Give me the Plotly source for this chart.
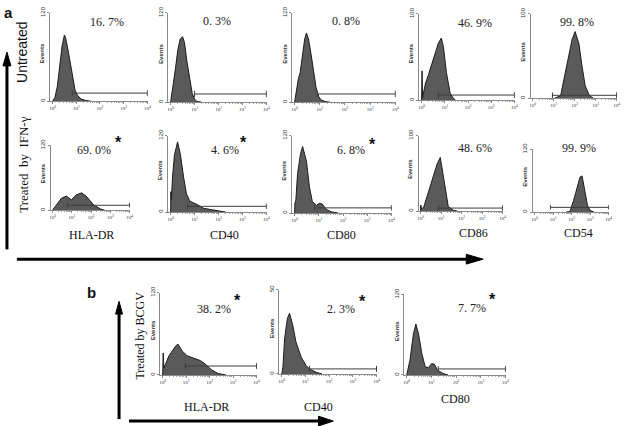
import numpy as np
import plotly.graph_objects as go

W, H = 627, 426

# ---------------- data (x in log10 fluorescence units, y in events) ----------------
# Untreated
hla_un_x = [0, 0.1, 0.2, 0.3, 0.4, 0.5, 0.55, 0.65, 0.75, 0.85, 0.95, 1.05, 1.2, 1.4, 1.6]
hla_un_y = [0, 5, 20, 50, 75, 90, 86, 70, 50, 30, 15, 8, 3, 1, 0]
cd40_un_x = [0, 0.03, 0.1, 0.2, 0.3, 0.4, 0.5, 0.58, 0.68, 0.8, 0.9, 1.0, 1.1, 1.3]
cd40_un_y = [0, 8, 20, 45, 70, 85, 88, 80, 55, 30, 12, 4, 1, 0]
cd80_un_x = [0, 0.08, 0.15, 0.22, 0.3, 0.4, 0.47, 0.55, 0.65, 0.75, 0.85, 0.95, 1.05, 1.2, 1.4]
cd80_un_y = [0, 20, 32, 40, 60, 85, 93, 85, 65, 40, 20, 8, 3, 1, 0]
cd86_un_x = [0, 0.02, 0.04, 0.17, 0.3, 0.43, 0.6, 0.72, 0.85, 0.94, 1.07, 1.23, 1.35, 1.45]
cd86_un_y = [0, 34, 3, 20, 30, 42, 55, 66, 72, 62, 32, 8, 3, 0]
cd54_un_x = [1.04, 1.33, 1.5, 1.74, 1.88, 2.02, 2.2, 2.35, 2.5, 2.7, 2.9]
cd54_un_y = [0, 3, 24, 53, 70, 79, 65, 38, 15, 3, 0]

# Treated by IFN-gamma
hla_ifn_x = [0, 0.2, 0.46, 0.72, 0.97, 1.23, 1.5, 1.74, 1.9, 2.15, 2.5, 2.7]
hla_ifn_y = [0, 9, 22, 26, 19, 28, 32, 26, 19, 9, 2, 0]
cd40_ifn_x = [0, 0.01, 0.03, 0.08, 0.16, 0.29, 0.41, 0.54, 0.66, 0.8, 1.1, 1.37, 1.8, 2.06, 2.3]
cd40_ifn_y = [0, 32, 20, 55, 90, 110, 90, 55, 29, 17, 12, 6, 3, 1, 0]
cd80_ifn_x = [0, 0.01, 0.05, 0.12, 0.24, 0.33, 0.49, 0.61, 0.73, 0.9, 1.02, 1.14, 1.3, 1.5, 1.8]
cd80_ifn_y = [0, 15, 20, 61, 91, 103, 80, 41, 18, 12, 15, 14, 6, 2, 0]
cd86_ifn_x = [0, 0.01, 0.04, 0.15, 0.4, 0.63, 0.8, 0.96, 1.07, 1.2, 1.35, 1.6, 1.8]
cd86_ifn_y = [0, 8, 3, 5, 27, 49, 62, 71, 53, 27, 6, 1, 0]
cd54_ifn_x = [1.7, 1.9, 2.1, 2.3, 2.45, 2.56, 2.7, 2.85, 3.0, 3.2]
cd54_ifn_y = [0, 1, 22, 49, 67, 69, 41, 13, 3, 0]

# Treated by BCGV
hla_bcg_x = [0, 0.02, 0.05, 0.13, 0.27, 0.41, 0.55, 0.65, 0.83, 1.04, 1.32, 1.6, 1.81, 2.1, 2.37, 2.7]
hla_bcg_y = [0, 32, 10, 17, 28, 35, 42, 45, 35, 28, 24, 21, 16, 7, 2, 0]
cd40_bcg_x = [0, 0.05, 0.125, 0.24, 0.33, 0.47, 0.6, 0.82, 1.03, 1.17, 1.45, 1.7]
cd40_bcg_y = [0, 4, 21.5, 33, 36, 28.5, 19, 10, 5, 3, 1, 0]
cd80_bcg_x = [0, 0.13, 0.27, 0.37, 0.48, 0.61, 0.75, 0.88, 1.01, 1.12, 1.25, 1.48, 1.68]
cd80_bcg_y = [0, 22, 61, 76, 61, 32, 12, 11, 17, 16, 7, 2, 0]

percent_labels = ["16. 7%", "0. 3%", "0. 8%", "46. 9%", "99. 8%",
                  "69. 0%", "4. 6%", "6. 8%", "48. 6%", "99. 9%",
                  "38. 2%", "2. 3%", "7. 7%"]
significant = [False, False, False, False, False,
               True, True, True, False, False,
               True, True, True]
y_max = [120, 120, 120, 100, 100,
         120, 120, 120, 100, 120,
         120, 50, 120]
gate_start = [0.83, 1.0, 0.9, 0.72, 0.94,
              0.77, 0.7, 0.82, 0.87, 0.85,
              0.97, 1.17, 1.28]
gate_level = [11, 11, 11, 6, 3.5,
              9, 9, 8, 4, 9,
              13, 3, 9]
hist_x = [hla_un_x, cd40_un_x, cd80_un_x, cd86_un_x, cd54_un_x,
          hla_ifn_x, cd40_ifn_x, cd80_ifn_x, cd86_ifn_x, cd54_ifn_x,
          hla_bcg_x, cd40_bcg_x, cd80_bcg_x]
hist_y = [hla_un_y, cd40_un_y, cd80_un_y, cd86_un_y, cd54_un_y,
          hla_ifn_y, cd40_ifn_y, cd80_ifn_y, cd86_ifn_y, cd54_ifn_y,
          hla_bcg_y, cd40_bcg_y, cd80_bcg_y]
x_tick_labels = ["10<sup>0</sup>", "10<sup>1</sup>", "10<sup>2</sup>", "10<sup>3</sup>", "10<sup>4</sup>"]

# ---------------- layout geometry (pixels) ----------------
# (x of 10^0, x of 10^4, y top, y bottom)
geom = [
    (51, 147, 6, 96), (170, 267, 6, 97), (295, 397, 6, 97), (423, 517, 7, 95), (535, 620, 7, 93),
    (51, 129, 141, 207), (170, 267, 131, 209), (295, 393, 131, 210), (422, 505, 131, 208), (537, 612, 145, 209),
    (162, 257, 291, 375), (282, 378, 288, 374), (408, 508, 293, 375),
]
pct_pos = [(106, 15), (217, 14), (347, 14), (477, 16), (580, 15),
           (93, 146), (225, 146), (352, 146), (477, 144), (582, 144),
           (214, 308), (342, 308), (474, 307)]
star_pos = [None] * 5 + [(117, 135), (243, 135), (373, 137), None, None,
                         (237, 296), (363, 297), (494, 295)]
marker_label_pos = [(90, 232, "HLA-DR"), (224, 232, "CD40"), (342, 232, "CD80"),
                    (475, 230, "CD86"), (581, 230, "CD54"),
                    (206, 408, "HLA-DR"), (319, 408, "CD40"), (457, 399, "CD80")]


def px(x):
    return x / W


def py(y):
    return 1 - y / H


def note(x, y, text, size, family, angle=0, color="#111"):
    return dict(x=px(x), y=py(y), xref="paper", yref="paper", text=text, showarrow=False,
                xanchor="center", yanchor="middle", textangle=angle,
                font=dict(size=size, family=family, color=color))


fig = go.Figure()
layout = dict(width=W, height=H, margin=dict(l=0, r=0, t=0, b=0, pad=0),
              paper_bgcolor="white", plot_bgcolor="rgba(0,0,0,0)", showlegend=False)
annotations = []
shapes = []

XMIN = -0.1
minor_vals = [d + np.log10(k) for d in range(4) for k in range(2, 10)]

for i, (x0, x1, yt, yb) in enumerate(geom):
    n = i + 1
    xa = "x" if n == 1 else f"x{n}"
    ya = "y" if n == 1 else f"y{n}"
    dec = (x1 - x0) / 4.0
    left = x0 + XMIN * dec
    layout["xaxis" if n == 1 else f"xaxis{n}"] = dict(
        domain=[px(left), px(x1)], range=[XMIN, 4.02], anchor=ya,
        showgrid=False, zeroline=False, showline=True, linecolor="#8a8a8a", linewidth=1,
        tickmode="array", tickvals=[0, 1, 2, 3, 4], ticktext=x_tick_labels,
        ticks="outside", ticklen=2, tickcolor="#8a8a8a",
        minor=dict(tickmode="array", tickvals=minor_vals, ticks="outside", ticklen=1, tickcolor="#aaaaaa"),
        tickfont=dict(size=5, family="Liberation Serif", color="#333"),
    )
    ym = y_max[i]
    layout["yaxis" if n == 1 else f"yaxis{n}"] = dict(
        domain=[py(yb), py(yt)], range=[0, ym], anchor=xa,
        showgrid=False, zeroline=False, showline=True, linecolor="#8a8a8a", linewidth=1,
        tickmode="array", tickvals=[0, ym], ticktext=["0", str(ym)], tickangle=-90,
        ticks="outside", ticklen=2, tickcolor="#8a8a8a",
        tickfont=dict(size=6, family="Liberation Sans", color="#333"),
    )
    fig.add_trace(go.Scatter(x=hist_x[i], y=hist_y[i], xaxis=xa, yaxis=ya, mode="lines",
                             fill="tozeroy", fillcolor="#5a5a5a",
                             line=dict(color="#1c1c1c", width=1), hoverinfo="skip"))
    g0, g1, gl = gate_start[i], 4.0, gate_level[i]
    cap = ym * 0.035
    fig.add_trace(go.Scatter(x=[g0, g0, None, g0, g1, None, g1, g1],
                             y=[gl - cap, gl + cap, None, gl, gl, None, gl - cap, gl + cap],
                             xaxis=xa, yaxis=ya, mode="lines",
                             line=dict(color="#3c3c3c", width=1), hoverinfo="skip"))
    annotations.append(note(left - 8, (yt + yb) / 2 - 4, "<b>Events</b>", 6, "Liberation Sans", -90, "#333"))
    cx, cy = pct_pos[i]
    annotations.append(note(cx, cy, percent_labels[i], 12, "Liberation Serif", 0, "#222"))
    if significant[i]:
        sx, sy = star_pos[i]
        annotations.append(note(sx, sy + 3, "<b>*</b>", 16, "Liberation Sans"))

for (mx, my, t) in marker_label_pos:
    annotations.append(note(mx, my, t, 12, "Liberation Serif"))

annotations += [
    note(7, 6, "<b>a</b>", 15, "Liberation Sans"),
    note(90, 291, "<b>b</b>", 15, "Liberation Sans"),
    note(20, 46, "Untreated", 14, "Liberation Sans", -90),
    note(22, 160, "Treated  by  IFN-γ", 13, "Liberation Serif", -90),
    note(139, 335, "Treated by BCGV", 12, "Liberation Serif", -90),
]


def line(xa_, ya_, xb_, yb_, w=3):
    return dict(type="line", xref="paper", yref="paper", x0=px(xa_), y0=py(ya_), x1=px(xb_), y1=py(yb_),
                line=dict(color="#000", width=w))


def tri(points):
    p = "M " + " L ".join(f"{px(a):.5f},{py(b):.5f}" for a, b in points) + " Z"
    return dict(type="path", xref="paper", yref="paper", path=p, fillcolor="#000", line=dict(color="#000", width=1))


shapes += [
    line(5, 247, 5, 58),
    tri([(5, 46), (1, 60), (9, 60)]),
    line(15, 257, 470, 257),
    tri([(485, 257), (468, 252), (468, 262)]),
    line(118, 420, 118, 312),
    tri([(118, 300), (114.5, 313), (121.5, 313)]),
    line(128, 422, 320, 422),
    tri([(334, 422), (319, 417), (319, 427)]),
]

layout["annotations"] = annotations
layout["shapes"] = shapes
fig.update_layout(**layout)
fig.write_html("out.html", config={"displayModeBar": False},
               post_script="document.body.style.margin='0';document.body.style.overflow='hidden';")
